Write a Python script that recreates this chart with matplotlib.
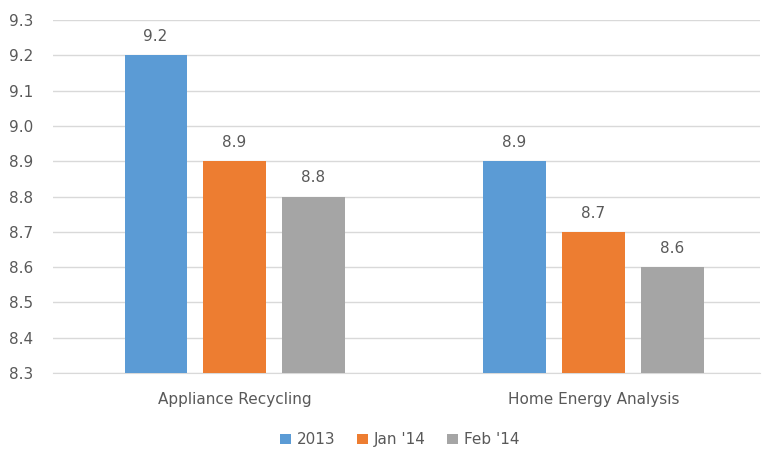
import numpy as np
import matplotlib.pyplot as plt

# satisfaction scores per program
programs = ['Appliance Recycling', 'Home Energy Analysis']
series = ['2013', "Jan '14", "Feb '14"]
scores_2013 = [9.2, 8.9]
scores_jan14 = [8.9, 8.7]
scores_feb14 = [8.8, 8.6]
yticks = [8.3, 8.4, 8.5, 8.6, 8.7, 8.8, 8.9, 9.0, 9.1, 9.2, 9.3]

colors = ['#5B9BD5', '#ED7D31', '#A5A5A5']
text_color = '#595959'

fig = plt.figure(figsize=(7.62, 4.51), dpi=100)
ax = fig.add_axes([0.0696, 0.1729, 0.9278, 0.7827])

x = np.arange(len(programs))
bar_width = 0.173
step = 0.22

for i, (name, vals) in enumerate(zip(series, [scores_2013, scores_jan14, scores_feb14])):
    bars = ax.bar(x + (i - 1) * step, vals, bar_width, color=colors[i], label=name,
                  bottom=0, zorder=3)
    for rect, v in zip(bars, vals):
        ax.annotate(f'{v:.1f}', (rect.get_x() + rect.get_width() / 2, v),
                    xytext=(0, 8), textcoords='offset points',
                    ha='center', va='bottom', fontsize=11, color=text_color)

ax.set_ylim(8.3, 9.3)
ax.set_xlim(-0.5056, 1.4638)
ax.set_yticks(yticks)
ax.set_yticklabels([f'{t:.1f}' for t in yticks])
ax.set_xticks(x, programs)
ax.tick_params(length=0, labelsize=11, colors=text_color)
ax.tick_params(axis='x', pad=14)
ax.tick_params(axis='y', pad=14)
ax.grid(axis='y', color='#D9D9D9', linewidth=1, zorder=0)
for s in ax.spines.values():
    s.set_visible(False)
ax.spines['bottom'].set_visible(True)
ax.spines['bottom'].set_color('#D9D9D9')
ax.spines['bottom'].set_zorder(0)

fig.legend(loc='center', bbox_to_anchor=(0.525, 0.025), ncol=3, frameon=False,
           fontsize=11, handlelength=0.7, handleheight=0.7, handletextpad=0.4,
           columnspacing=1.4, labelcolor=text_color)

fig.savefig('out.png', dpi=100)
